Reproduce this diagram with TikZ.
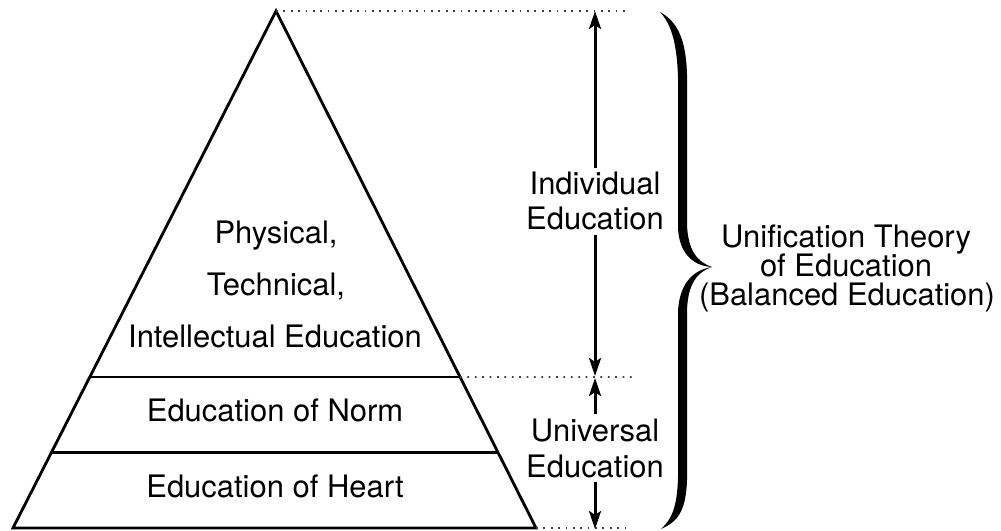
\documentclass[tikz,border=0pt]{standalone}
\usepackage{fontspec}
\setmainfont{TeX Gyre Heros}
\usetikzlibrary{arrows.meta,calc}
\begin{document}
\begin{tikzpicture}[x=0.01cm,y=-0.01cm,
  txt/.style={font=\fontsize{8.8}{10}\selectfont, inner sep=0pt, anchor=base},
  lbl/.style={txt, outer sep=0.045cm},
  edge/.style={line width=0.8pt, line join=miter},
  band/.style={line width=0.6pt},
  guide/.style={line width=0.5pt, black!75, dash pattern=on 0.5pt off 1.6pt},
  dim/.style={line width=0.85pt, -{Stealth[length=0.18cm,width=0.12cm,inset=0.04cm]}}]
\useasboundingbox (0,0) rectangle (1001,531);

% pyramid corners
\coordinate (apex) at (276,11);
\coordinate (bl) at (13,528);
\coordinate (br) at (536,528);
\draw[edge] (apex) -- (bl) -- (br) -- cycle;

% band boundaries
\coordinate (l1) at ($(apex)!0.708!(bl)$);
\coordinate (r1) at ($(apex)!0.708!(br)$);
\coordinate (l2) at ($(apex)!0.854!(bl)$);
\coordinate (r2) at ($(apex)!0.854!(br)$);
\draw[band] (l1) -- (r1);
\draw[band] (l2) -- (r2);

% dotted guides to the dimension line
\coordinate (g0) at (630,11);
\coordinate (g1) at (632,377);
\coordinate (g2) at (630,528);
\draw[guide] (apex) -- (g0);
\draw[guide] (r1) -- (g1);
\draw[guide] (br) -- (g2);

% texts inside the pyramid
\node[txt] (phys) at (276,244) {Physical,};
\node[txt] (tech) at (276,296) {Technical,};
\node[txt] (intel) at (275,348) {Intellectual Education};
\node[txt] (norm) at (275,421) {Education of Norm};
\node[txt] (heart) at (275,497) {Education of Heart};

% dimension labels
\node[lbl] (indA) at (595,195) {Individual};
\node[lbl] (indB) at (595,230) {Education};
\node[lbl] (uniA) at (595,441.5) {Universal};
\node[lbl] (uniB) at (595,477) {Education};

% dimension arrows
\coordinate (dTop) at (595,11);
\coordinate (dMidA) at (595,376);
\coordinate (dMidB) at (595,378);
\coordinate (dBot) at (595,529);
\draw[dim] (indA.north) -- (dTop);
\draw[dim] (indB.south) -- (dMidA);
\draw[dim] (uniA.north) -- (dMidB);
\draw[dim] (uniB.south) -- (dBot);

% curly brace
\fill (660,12) .. controls (678,22) and (686,40) .. (687,75) -- (687,225)
  .. controls (688,250) and (697,262) .. (712,267)
  .. controls (692,266) and (679,252) .. (678,228) -- (678,78)
  .. controls (677,45) and (672,25) .. (660,12) -- cycle;
\fill (712,267) .. controls (697,272) and (688,284) .. (687,310) -- (687,480)
  .. controls (686,512) and (677,522) .. (661,529)
  .. controls (673,518) and (677,505) .. (678,478) -- (678,312)
  .. controls (679,285) and (692,270) .. (712,267) -- cycle;

% brace label
\node[txt] (uniT) at (846,248) {Unification Theory};
\node[txt] (uniO) at (846,277) {of Education};
\node[txt] (uniP) at (847,306) {(Balanced Education)};
\end{tikzpicture}
\end{document}
